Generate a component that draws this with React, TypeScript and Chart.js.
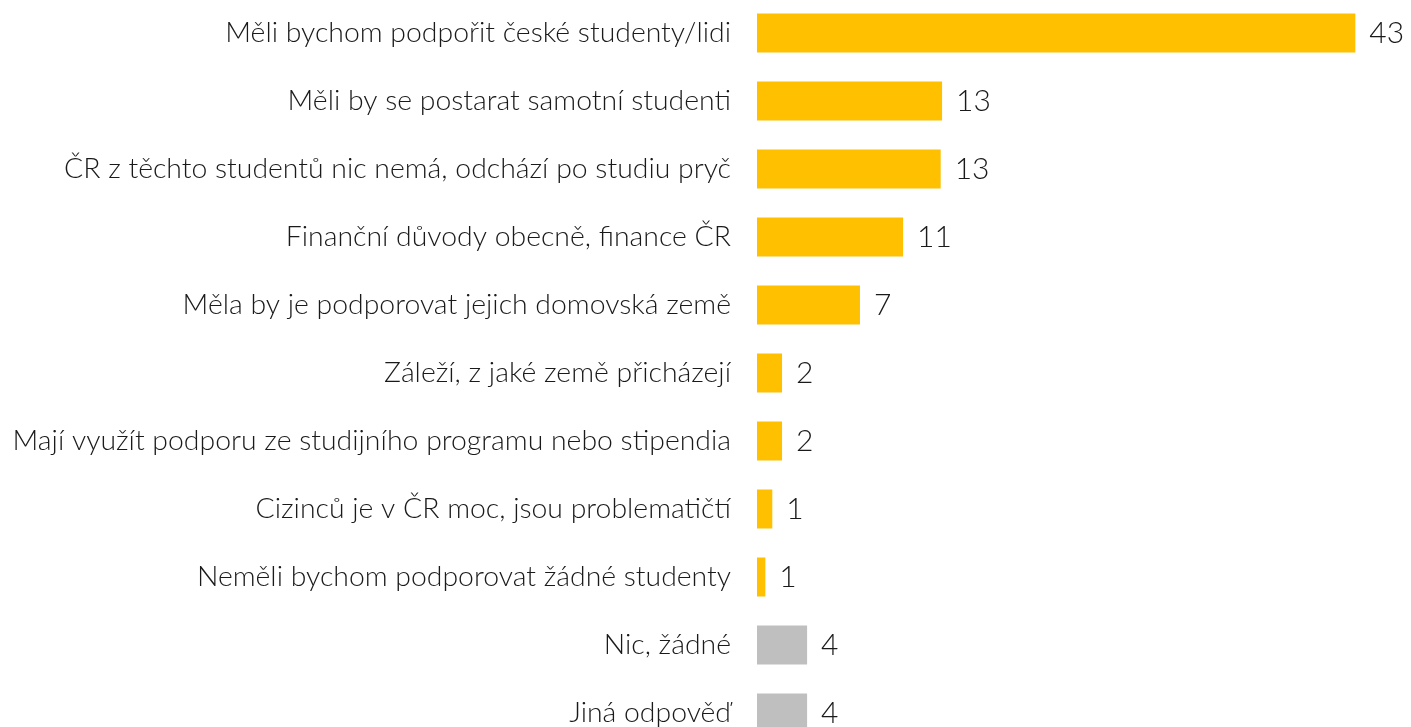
import React, { useEffect, useRef } from "react";
import { Chart, registerables } from "chart.js";

Chart.register(...registerables);

const categories: string[] = [
  "Měli bychom podpořit české studenty/lidi",
  "Měli by se postarat samotní studenti",
  "ČR z těchto studentů nic nemá, odchází po studiu pryč",
  "Finanční důvody obecně, finance ČR",
  "Měla by je podporovat jejich domovská země",
  "Záleží, z jaké země přicházejí",
  "Mají využít podporu ze studijního programu nebo stipendia",
  "Cizinců je v ČR moc, jsou problematičtí",
  "Neměli bychom podporovat žádné studenty",
  "Nic, žádné",
  "Jiná odpověď",
];

const values: number[] = [43, 13.3, 13.2, 10.5, 7.4, 1.8, 1.8, 1.1, 0.6, 3.6, 3.6];
const valueLabels: string[] = ["43", "13", "13", "11", "7", "2", "2", "1", "1", "4", "4"];
const barColors: string[] = [
  "#FFC000", "#FFC000", "#FFC000", "#FFC000", "#FFC000", "#FFC000",
  "#FFC000", "#FFC000", "#FFC000", "#BFBFBF", "#BFBFBF",
];
const xMax = 47;

const FONT = "Lato, 'Open Sans', sans-serif";

const valueLabelPlugin = {
  id: "valueLabels",
  afterDatasetsDraw(chart: any) {
    const { ctx } = chart;
    const meta = chart.getDatasetMeta(0);
    ctx.save();
    ctx.font = `300 30px ${FONT}`;
    ctx.fillStyle = "#1a1a1a";
    ctx.textAlign = "left";
    ctx.textBaseline = "middle";
    meta.data.forEach((bar: any, i: number) => {
      ctx.fillText(valueLabels[i], bar.x + 14, bar.y);
    });
    ctx.restore();
  },
};

export default function App() {
  const canvasRef = useRef<HTMLCanvasElement | null>(null);

  useEffect(() => {
    if (!canvasRef.current) return;
    const chart = new Chart(canvasRef.current, {
      type: "bar",
      data: {
        labels: categories,
        datasets: [
          {
            data: values,
            backgroundColor: barColors,
            borderWidth: 0,
            barPercentage: 39 / 68,
            categoryPercentage: 1,
          },
        ],
      },
      options: {
        indexAxis: "y",
        animation: false,
        responsive: true,
        maintainAspectRatio: false,
        layout: { padding: 0 },
        plugins: {
          legend: { display: false },
          tooltip: { enabled: false },
        },
        scales: {
          x: {
            display: false,
            min: 0,
            max: xMax,
          },
          y: {
            grid: { display: false, drawTicks: false },
            border: { display: false },
            ticks: {
              padding: 26,
              color: "#1a1a1a",
              font: { family: FONT, size: 28.4, weight: 300 as any },
            },
            afterFit: (scale: any) => {
              scale.width = 757;
              scale.paddingTop = 0;
              scale.paddingBottom = 0;
            },
          },
        },
      },
      plugins: [valueLabelPlugin],
    });
    return () => chart.destroy();
  }, []);

  return (
    <div
      style={{
        position: "absolute",
        left: 0,
        top: -1.5,
        width: 1411,
        height: 748,
      }}
    >
      <canvas ref={canvasRef} />
    </div>
  );
}
